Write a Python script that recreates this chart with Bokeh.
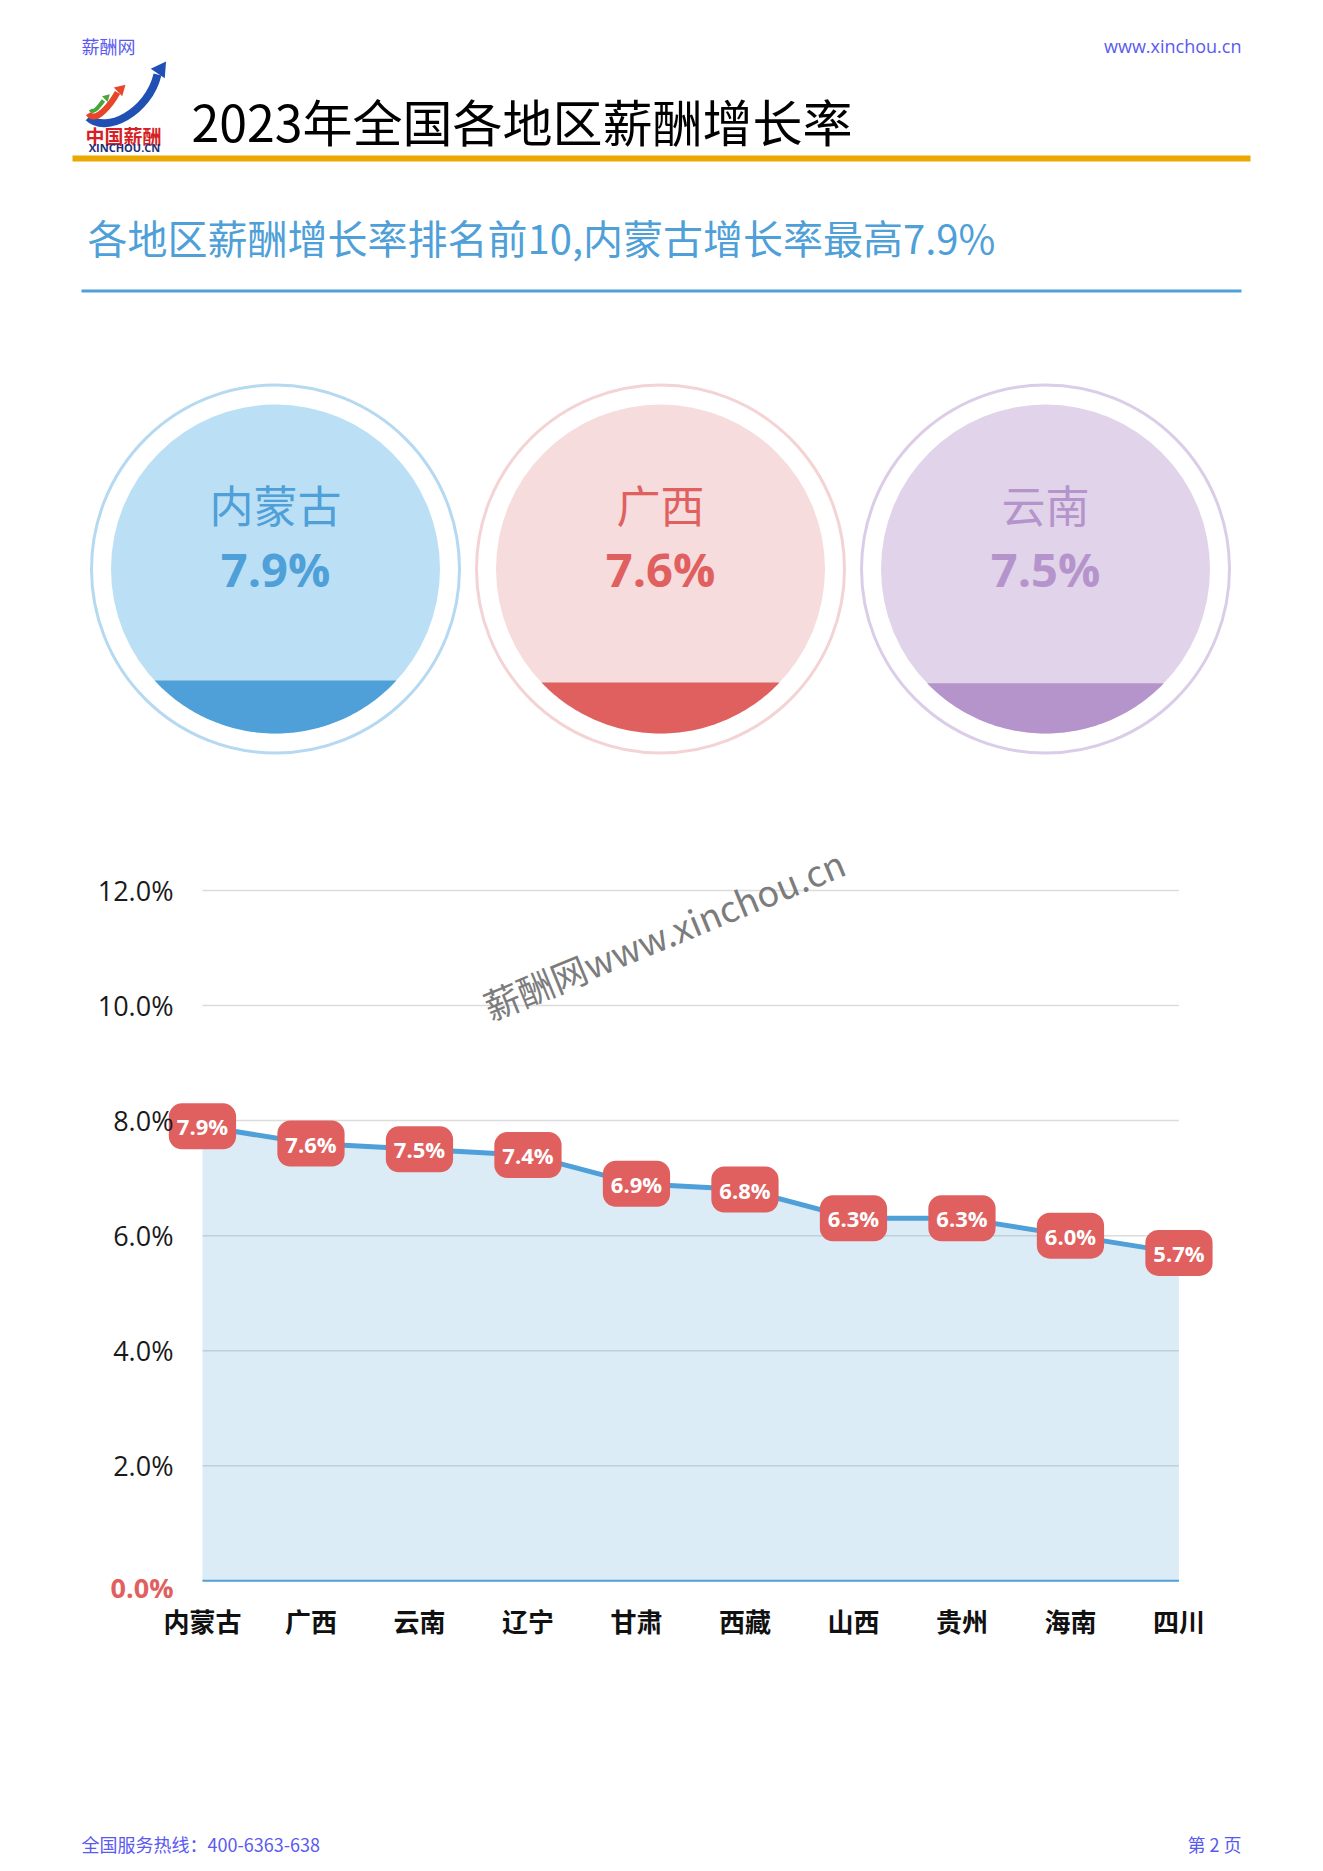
import numpy as np
from bokeh.plotting import figure
from bokeh.models import Range1d, FixedTicker, ColumnDataSource
from bokeh.layouts import column
from bokeh.core.properties import value
from bokeh.embed import file_html
from bokeh.resources import INLINE

# ---------------- data ----------------
regions = ["内蒙古", "广西", "云南", "辽宁", "甘肃", "西藏", "山西", "贵州", "海南", "四川"]
growth = [7.9, 7.6, 7.5, 7.4, 6.9, 6.8, 6.3, 6.3, 6.0, 5.7]
y_ticks = [0, 2, 4, 6, 8, 10, 12]
y_tick_labels = ["0.0%", "2.0%", "4.0%", "6.0%", "8.0%", "10.0%", "12.0%"]
top_n = 3

page_title = "2023年全国各地区薪酬增长率"
subtitle = "各地区薪酬增长率排名前10,内蒙古增长率最高7.9%"
site_name = "薪酬网"
site_url = "www.xinchou.cn"
hotline = "全国服务热线：400-6363-638"
page_no = "第 2 页"
watermark = "薪酬网www.xinchou.cn"
logo_cn = "中国薪酬"
logo_en = "XINCHOU.CN"

W = 1323
BL, BR = 62, 61          # shared left/right borders so the stacked frames line up
CJK = value("Noto Sans CJK SC")
LAT = value("Open Sans")
HEAD_BLUE = "#5a5af0"
BLUE = "#4f9fd8"
RED = "#e06060"


def page_fig(h):
    f = figure(width=W, height=h, x_range=Range1d(BL, W - BR), y_range=Range1d(h, 0),
               output_backend="svg", toolbar_location=None,
               min_border_left=BL, min_border_right=BR, min_border_top=0, min_border_bottom=0,
               x_axis_location=None, y_axis_location=None)
    f.grid.visible = False
    f.outline_line_color = None
    return f


# ---------------- header + circles ----------------
TOP_H = 800
top = page_fig(TOP_H)

top.text(x=[81], y=[45], text=[site_name], text_font=CJK, text_font_size="18px",
         text_color=HEAD_BLUE, text_align="left", text_baseline="middle")
top.text(x=[1241], y=[45], text=[site_url], text_font=LAT, text_font_size="18px",
         text_color=HEAD_BLUE, text_align="right", text_baseline="middle")

# logo
top.bezier(x0=[88], y0=[117], x1=[157], y1=[74], cx0=[105], cy0=[134], cx1=[148], cy1=[112],
           line_color="#2150b4", line_width=8)
top.scatter(x=[160], y=[69], marker="triangle", size=17, angle=-0.6,
            fill_color="#2150b4", line_color=None)
top.bezier(x0=[88], y0=[113], x1=[117], y1=[92], cx0=[95], cy0=[124], cx1=[111], cy1=[103],
           line_color="#e8462a", line_width=6)
top.scatter(x=[120], y=[89], marker="triangle", size=12, angle=-0.8,
            fill_color="#e8462a", line_color=None)
top.bezier(x0=[90], y0=[109], x1=[103], y1=[100], cx0=[93], cy0=[114], cx1=[99], cy1=[105],
           line_color="#45a83a", line_width=4)
top.scatter(x=[106], y=[97], marker="triangle", size=8, angle=-0.8,
            fill_color="#45a83a", line_color=None)
top.text(x=[123], y=[135], text=[logo_cn], text_font=CJK, text_font_style="bold",
         text_font_size="19px", text_color="#d71f26", text_align="center", text_baseline="middle")
top.text(x=[124], y=[147], text=[logo_en], text_font=LAT, text_font_style="bold",
         text_font_size="11px", text_color="#1d2f7a", text_align="center", text_baseline="middle")

top.text(x=[191], y=[119], text=[page_title], text_font=CJK, text_font_size="50px",
         text_color="#000000", text_align="left", text_baseline="middle")
top.quad(left=[72], right=[1250], top=[155], bottom=[161], fill_color="#eaa800", line_color=None)

top.text(x=[87], y=[236], text=[subtitle], text_font=CJK, text_font_size="40px",
         text_color=BLUE, text_align="left", text_baseline="middle")
top.quad(left=[81], right=[1241], top=[289], bottom=[292], fill_color=BLUE, line_color=None)

ring_colors = ["#b6d9f2", "#f4d3d4", "#dbcde8"]
fill_colors = ["#bbdff5", "#f7dcdd", "#e0d3ea"]
dark_colors = ["#4f9fd8", "#e06060", "#b594cc"]

cx = [275 + 385 * i for i in range(top_n)]
cy = 568.5
r_in, r_out = 164.5, 184
top.circle(x=cx, y=[cy] * top_n, radius=r_out, fill_color=None,
           line_color=ring_colors, line_width=3)
top.circle(x=cx, y=[cy] * top_n, radius=r_in, fill_color=fill_colors, line_color=None)

seg_xs, seg_ys = [], []
for i in range(top_n):
    depth = growth[i] * 6.7
    d = r_in - depth
    alpha = np.arccos(d / r_in)
    phi = np.linspace(-alpha, alpha, 80)
    seg_xs.append(list(cx[i] + r_in * np.sin(phi)))
    seg_ys.append(list(cy + r_in * np.cos(phi)))
top.patches(xs=seg_xs, ys=seg_ys, fill_color=dark_colors, line_color=None)

top.text(x=cx, y=[503] * top_n, text=regions[:top_n], text_font=CJK, text_font_size="44px",
         text_color=dark_colors, text_align="center", text_baseline="middle")
top.text(x=cx, y=[568] * top_n, text=[f"{v:.1f}%" for v in growth[:top_n]], text_font=LAT,
         text_font_style="bold", text_font_size="47px", text_color=dark_colors,
         text_align="center", text_baseline="middle")

# ---------------- line chart ----------------
CH_H = 1000
n = len(regions)
x_idx = list(range(n))
p = figure(width=W, height=CH_H, x_range=Range1d(-1.29, 9.77), y_range=Range1d(-0.5, 12.8),
           output_backend="svg", toolbar_location=None,
           min_border_left=BL, min_border_right=BR, min_border_top=44, min_border_bottom=191)
p.outline_line_color = None
p.grid.visible = False
p.yaxis.visible = False
xa = p.xaxis[0]
xa.ticker = FixedTicker(ticks=x_idx)
xa.major_label_overrides = {i: r for i, r in zip(x_idx, regions)}
xa.axis_line_color = None
xa.major_tick_line_color = None
xa.minor_tick_line_color = None
xa.major_tick_out = 0
xa.major_label_text_font = "Noto Sans CJK SC"
xa.major_label_text_font_size = "26px"
xa.major_label_text_font_style = "bold"
xa.major_label_text_color = "#111111"
xa.major_label_standoff = -8

grid_ticks = y_ticks[1:]
p.segment(x0=[x_idx[0]] * len(grid_ticks), x1=[x_idx[-1]] * len(grid_ticks),
          y0=grid_ticks, y1=grid_ticks, line_color="#dcdcdc", line_width=1.5)

p.text(x=[4.25], y=[11.26], text=[watermark], angle=0.39, text_font=CJK,
       text_font_size="36px", text_color="#7c7c7c", text_align="center", text_baseline="middle")

p.varea(x=x_idx, y1=[0] * n, y2=growth, fill_color=BLUE, fill_alpha=0.2)
p.segment(x0=[x_idx[0]], x1=[x_idx[-1]], y0=[0], y1=[0], line_color=BLUE, line_width=2)
p.line(x_idx, growth, line_color=BLUE, line_width=5)
p.text(x=x_idx, y=growth, text=[f"{v:.1f}%" for v in growth], text_font=LAT,
       text_font_style="bold", text_font_size="22px", text_color="white",
       text_align="center", text_baseline="middle",
       background_fill_color=RED, border_radius=13, padding=8)

ylab = ColumnDataSource(dict(
    x=[x_idx[0]] * len(y_ticks), y=y_ticks, text=y_tick_labels,
    color=[RED if t == 0 else "#1a1a1a" for t in y_ticks],
    style=["bold" if t == 0 else "normal" for t in y_ticks],
    yoff=[7 if t == 0 else 0 for t in y_ticks],
))
p.text(x="x", y="y", text="text", source=ylab, x_offset=-29, y_offset="yoff",
       text_color="color", text_font_style="style", text_font=LAT, text_font_size="27px",
       text_align="right", text_baseline="middle")

# ---------------- footer ----------------
FT_H = 71
foot = page_fig(FT_H)
foot.text(x=[81], y=[43], text=[hotline], text_font=CJK, text_font_size="18px",
          text_color=HEAD_BLUE, text_align="left", text_baseline="middle")
foot.text(x=[1241], y=[43], text=[page_no], text_font=CJK, text_font_size="18px",
          text_color=HEAD_BLUE, text_align="right", text_baseline="middle")

layout = column(top, p, foot, spacing=0)
open("out.html", "w").write(file_html(layout, INLINE))
